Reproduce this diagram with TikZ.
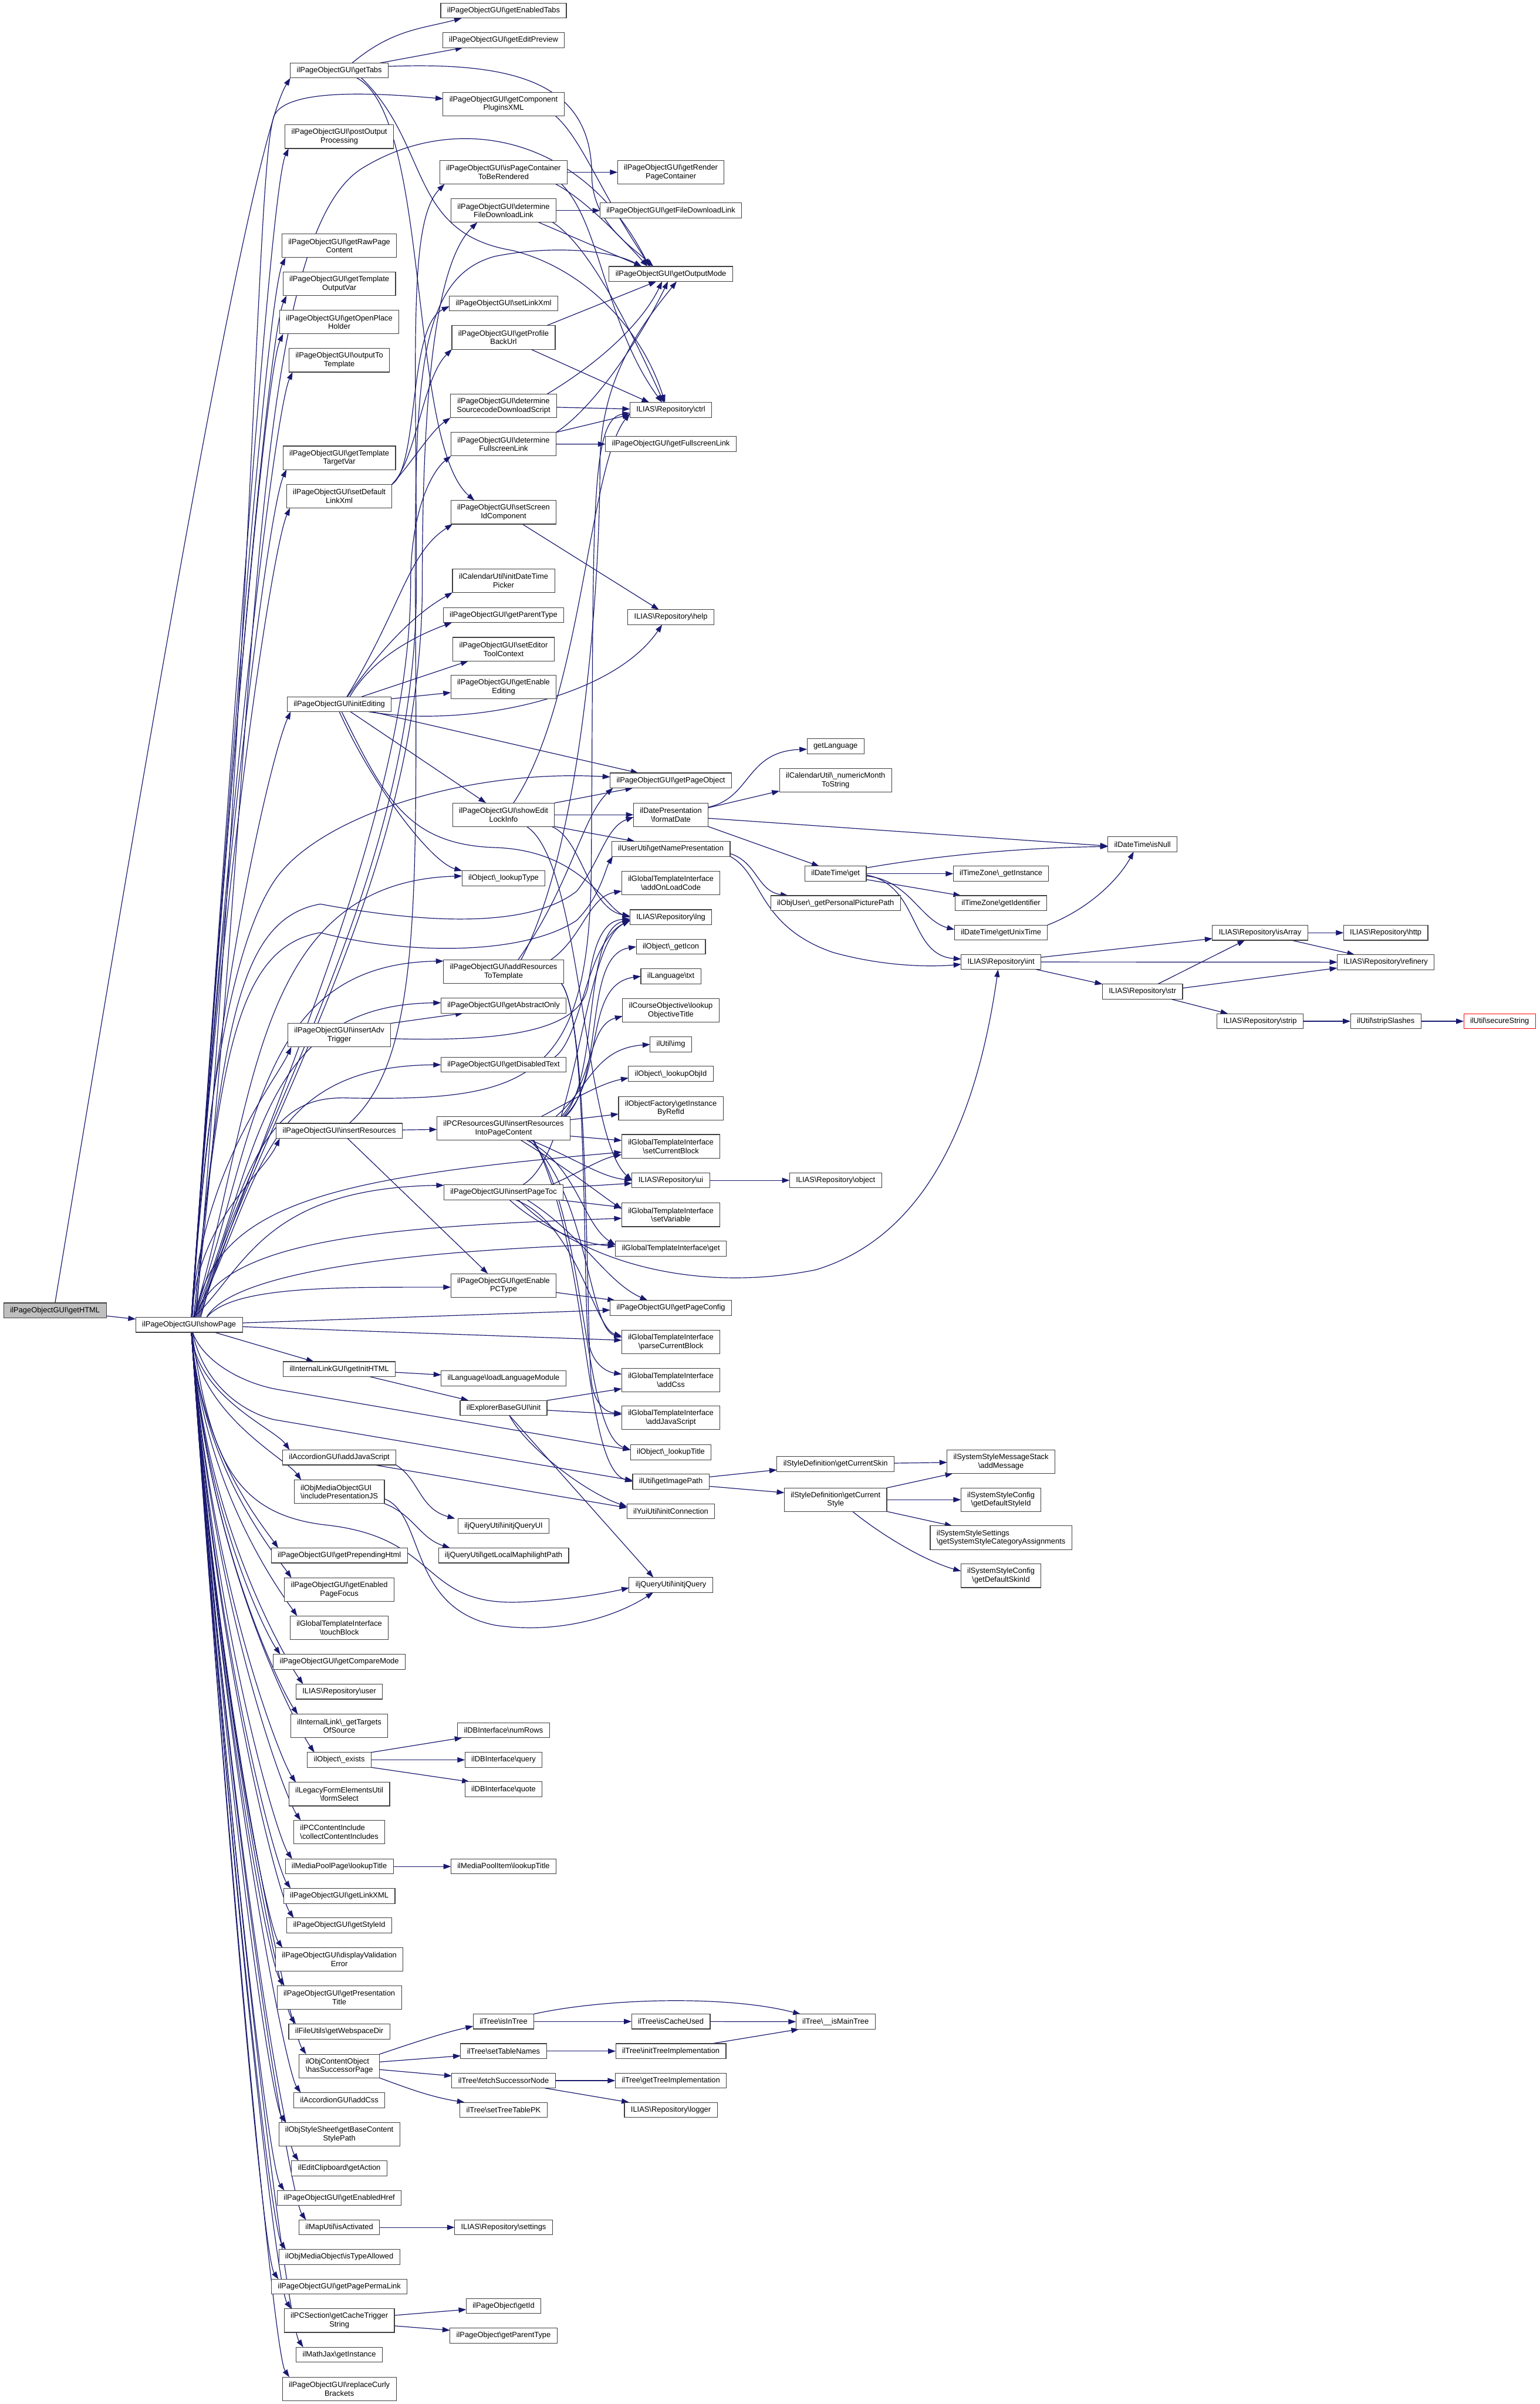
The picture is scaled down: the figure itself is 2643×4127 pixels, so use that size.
\documentclass[tikz,border=0pt]{standalone}
\usepackage{fontspec}
\setmainfont{Liberation Sans}
\usetikzlibrary{arrows.meta}
\definecolor{eb}{HTML}{191970}
\definecolor{nb}{HTML}{404040}
\definecolor{rootfill}{HTML}{BFBFBF}
\newcommand{\bks}{\textbackslash}
\pgfdeclarelayer{bg}
\pgfsetlayers{bg,main}
\newcommand{\fanDown}[2]{\draw[cedge] ([xshift=4pt]showPage.south) .. controls +(-86:#2) and +(125:45) .. ([xshift=12pt]#1.north west);}
\newcommand{\fanUp}[2]{\draw[cedge] ([xshift=4pt]showPage.north) .. controls +(86:#2) and +(-115:70) .. ([xshift=6pt]#1.south west);}
\begin{document}
\begin{tikzpicture}[x=1pt,y=1pt,
 nbox/.style={draw=nb, line width=1.1pt, fill=white, inner xsep=11pt, inner ysep=1pt, minimum height=25.7pt, font=\fontsize{13}{14.7}\selectfont, align=center, outer sep=0pt},
 twol/.style={minimum height=40.5pt},
 cedge/.style={draw=eb, line width=1.2pt, -{Triangle[length=13pt,width=9pt]}}]
\useasboundingbox (0,0) rectangle (2643,-4127);

% root
\node[nbox,fill=rootfill] (getHTML) at (94.5,-2249.6) {ilPageObjectGUI\bks getHTML};
\node[nbox] (showPage) at (324.6,-2274.3) {ilPageObjectGUI\bks showPage};

% column 1
\node[nbox] (getTabs) at (582.5,-121) {ilPageObjectGUI\bks getTabs};
\node[nbox,twol] (postOutput) at (582.5,-234.7) {ilPageObjectGUI\bks postOutput\\Processing};
\node[nbox,twol] (getRawPage) at (582.5,-422) {ilPageObjectGUI\bks getRawPage\\Content};
\node[nbox,twol] (getTplOut) at (582.5,-487.5) {ilPageObjectGUI\bks getTemplate\\OutputVar};
\node[nbox,twol] (getOpenPH) at (582.5,-553) {ilPageObjectGUI\bks getOpenPlace\\Holder};
\node[nbox,twol] (outputTo) at (582.5,-618.5) {ilPageObjectGUI\bks outputTo\\Template};
\node[nbox,twol] (getTplTarget) at (582.5,-786) {ilPageObjectGUI\bks getTemplate\\TargetVar};
\node[nbox,twol] (setDefLink) at (582.5,-851.8) {ilPageObjectGUI\bks setDefault\\LinkXml};
\node[nbox] (initEditing) at (582.5,-1208.9) {ilPageObjectGUI\bks initEditing};
\node[nbox,twol] (insertAdv) at (582.5,-1777) {ilPageObjectGUI\bks insertAdv\\Trigger};
\node[nbox] (insertRes) at (582.5,-1941.3) {ilPageObjectGUI\bks insertResources};
\node[nbox] (getInitHTML) at (582.5,-2350.4) {ilInternalLinkGUI\bks getInitHTML};
\node[nbox] (accJS) at (582.5,-2502) {ilAccordionGUI\bks addJavaScript};
\node[nbox,twol,align=left] (inclPresJS) at (582.5,-2561) {ilObjMediaObjectGUI\\\bks includePresentationJS};
\node[nbox] (getPrepHtml) at (582.5,-2670.3) {ilPageObjectGUI\bks getPrependingHtml};
\node[nbox,twol] (getEnPF) at (582.5,-2729) {ilPageObjectGUI\bks getEnabled\\PageFocus};
\node[nbox,twol] (touchBlock) at (582.5,-2794.4) {ilGlobalTemplateInterface\\\bks touchBlock};
\node[nbox] (getCompare) at (582.5,-2853) {ilPageObjectGUI\bks getCompareMode};
\node[nbox] (user) at (582.5,-2904) {ILIAS\bks Repository\bks user};
\node[nbox,twol] (getTargets) at (582.5,-2963) {ilInternalLink\bks\_getTargets\\OfSource};
\node[nbox] (exists) at (582.5,-3021.2) {ilObject\bks\_exists};
\node[nbox,twol] (formSelect) at (582.5,-3080) {ilLegacyFormElementsUtil\\\bks formSelect};
\node[nbox,twol,align=left] (collectCI) at (582.5,-3145.2) {ilPCContentInclude\\\bks collectContentIncludes};
\node[nbox] (mpPage) at (582.5,-3204.2) {ilMediaPoolPage\bks lookupTitle};
\node[nbox] (getLinkXML) at (582.5,-3254.7) {ilPageObjectGUI\bks getLinkXML};
\node[nbox] (getStyleId) at (582.5,-3305.4) {ilPageObjectGUI\bks getStyleId};
\node[nbox,twol] (dispValErr) at (582.5,-3363.9) {ilPageObjectGUI\bks displayValidation\\Error};
\node[nbox,twol] (getPresTitle) at (582.5,-3429) {ilPageObjectGUI\bks getPresentation\\Title};
\node[nbox] (webspace) at (582.5,-3487.5) {ilFileUtils\bks getWebspaceDir};
\node[nbox,twol,align=left] (hasSucc) at (582.5,-3546.8) {ilObjContentObject\\\bks hasSuccessorPage};
\node[nbox] (accCss) at (582.5,-3605.4) {ilAccordionGUI\bks addCss};
\node[nbox,twol] (baseCSP) at (582.5,-3664) {ilObjStyleSheet\bks getBaseContent\\StylePath};
\node[nbox] (clipAction) at (582.5,-3722.3) {ilEditClipboard\bks getAction};
\node[nbox] (getEnHref) at (582.5,-3773.3) {ilPageObjectGUI\bks getEnabledHref};
\node[nbox] (mapAct) at (582.5,-3823.8) {ilMapUtil\bks isActivated};
\node[nbox] (typeAllowed) at (582.5,-3874.7) {ilObjMediaObject\bks isTypeAllowed};
\node[nbox] (permaLink) at (582.5,-3925.5) {ilPageObjectGUI\bks getPagePermaLink};
\node[nbox,twol] (cacheTrig) at (582.5,-3983.8) {ilPCSection\bks getCacheTrigger\\String};
\node[nbox] (mathJax) at (582.5,-4042.2) {ilMathJax\bks getInstance};
\node[nbox,twol] (curly) at (582.5,-4101) {ilPageObjectGUI\bks replaceCurly\\Brackets};

% column 2
\node[nbox] (enTabs) at (864.5,-18.3) {ilPageObjectGUI\bks getEnabledTabs};
\node[nbox] (editPrev) at (864.5,-69) {ilPageObjectGUI\bks getEditPreview};
\node[nbox,twol] (compPlug) at (864.5,-178.6) {ilPageObjectGUI\bks getComponent\\PluginsXML};
\node[nbox,twol] (isPCR) at (864.5,-295.7) {ilPageObjectGUI\bks isPageContainer\\ToBeRendered};
\node[nbox,twol] (detFDL) at (864.5,-361.4) {ilPageObjectGUI\bks determine\\FileDownloadLink};
\node[nbox] (setLinkXml) at (864.5,-520.8) {ilPageObjectGUI\bks setLinkXml};
\node[nbox,twol] (profBack) at (864.5,-579.3) {ilPageObjectGUI\bks getProfile\\BackUrl};
\node[nbox,twol] (detSrc) at (864.5,-697) {ilPageObjectGUI\bks determine\\SourcecodeDownloadScript};
\node[nbox,twol] (detFS) at (864.5,-762.5) {ilPageObjectGUI\bks determine\\FullscreenLink};
\node[nbox,twol] (setScreen) at (864.5,-879.5) {ilPageObjectGUI\bks setScreen\\IdComponent};
\node[nbox,twol] (dtPicker) at (864.5,-996.9) {ilCalendarUtil\bks initDateTime\\Picker};
\node[nbox] (parentType) at (864.5,-1055.8) {ilPageObjectGUI\bks getParentType};
\node[nbox,twol] (editorTool) at (864.5,-1114.5) {ilPageObjectGUI\bks setEditor\\ToolContext};
\node[nbox,twol] (enEditing) at (864.5,-1179.5) {ilPageObjectGUI\bks getEnable\\Editing};
\node[nbox,twol] (lockInfo) at (864.5,-1398.7) {ilPageObjectGUI\bks showEdit\\LockInfo};
\node[nbox] (lookupType) at (864.5,-1507.8) {ilObject\bks\_lookupType};
\node[nbox,twol] (addRes) at (864.5,-1667.9) {ilPageObjectGUI\bks addResources\\ToTemplate};
\node[nbox] (abstractOnly) at (864.5,-1726.5) {ilPageObjectGUI\bks getAbstractOnly};
\node[nbox] (disabledText) at (864.5,-1827.9) {ilPageObjectGUI\bks getDisabledText};
\node[nbox,twol] (resInto) at (864.5,-1937.3) {ilPCResourcesGUI\bks insertResources\\IntoPageContent};
\node[nbox] (pageToc) at (864.5,-2046.7) {ilPageObjectGUI\bks insertPageToc};
\node[nbox,twol] (enPCType) at (864.5,-2206.7) {ilPageObjectGUI\bks getEnable\\PCType};
\node[nbox] (loadLang) at (864.5,-2366.3) {ilLanguage\bks loadLanguageModule};
\node[nbox] (explInit) at (864.5,-2417) {ilExplorerBaseGUI\bks init};
\node[nbox] (jqUI) at (864.5,-2619.8) {iljQueryUtil\bks initjQueryUI};
\node[nbox] (maphl) at (864.5,-2670.3) {iljQueryUtil\bks getLocalMaphilightPath};
\node[nbox] (numRows) at (864.5,-2970.3) {ilDBInterface\bks numRows};
\node[nbox] (query) at (864.5,-3021.2) {ilDBInterface\bks query};
\node[nbox] (quote) at (864.5,-3071.7) {ilDBInterface\bks quote};
\node[nbox] (mpItem) at (864.5,-3204.2) {ilMediaPoolItem\bks lookupTitle};
\node[nbox] (isInTree) at (864.5,-3470.3) {ilTree\bks isInTree};
\node[nbox] (setTN) at (864.5,-3521.2) {ilTree\bks setTableNames};
\node[nbox] (fetchSucc) at (864.5,-3571.8) {ilTree\bks fetchSuccessorNode};
\node[nbox] (setPK) at (864.5,-3622) {ilTree\bks setTreeTablePK};
\node[nbox] (settings) at (864.5,-3823.8) {ILIAS\bks Repository\bks settings};
\node[nbox] (pgId) at (864.5,-3958.7) {ilPageObject\bks getId};
\node[nbox] (pgParent) at (864.5,-4009.4) {ilPageObject\bks getParentType};

% column 3
\node[nbox,twol] (renderPC) at (1151.7,-295.7) {ilPageObjectGUI\bks getRender\\PageContainer};
\node[nbox] (fileDL) at (1151.7,-361.4) {ilPageObjectGUI\bks getFileDownloadLink};
\node[nbox] (outMode) at (1151.7,-470.3) {ilPageObjectGUI\bks getOutputMode};
\node[nbox] (ctrl) at (1151.7,-703.8) {ILIAS\bks Repository\bks ctrl};
\node[nbox] (fsLink) at (1151.7,-762.3) {ilPageObjectGUI\bks getFullscreenLink};
\node[nbox] (help) at (1151.7,-1059.6) {ILIAS\bks Repository\bks help};
\node[nbox] (pageObj) at (1151.7,-1339.8) {ilPageObjectGUI\bks getPageObject};
\node[nbox,twol] (fmtDate) at (1151.7,-1398.7) {ilDatePresentation\\\bks formatDate};
\node[nbox] (namePres) at (1151.7,-1457.3) {ilUserUtil\bks getNamePresentation};
\node[nbox,twol] (onLoad) at (1151.7,-1515.6) {ilGlobalTemplateInterface\\\bks addOnLoadCode};
\node[nbox] (lng) at (1151.7,-1574.6) {ILIAS\bks Repository\bks lng};
\node[nbox] (getIcon) at (1151.7,-1625.2) {ilObject\bks\_getIcon};
\node[nbox] (txt) at (1151.7,-1676) {ilLanguage\bks txt};
\node[nbox,twol] (objTitle) at (1151.7,-1734.4) {ilCourseObjective\bks lookup\\ObjectiveTitle};
\node[nbox] (img) at (1151.7,-1793) {ilUtil\bks img};
\node[nbox] (lookupObjId) at (1151.7,-1843.5) {ilObject\bks\_lookupObjId};
\node[nbox,twol] (byRefId) at (1151.7,-1902.5) {ilObjectFactory\bks getInstance\\ByRefId};
\node[nbox,twol] (setCB) at (1151.7,-1967.9) {ilGlobalTemplateInterface\\\bks setCurrentBlock};
\node[nbox] (ui) at (1151.7,-2026.3) {ILIAS\bks Repository\bks ui};
\node[nbox,twol] (setVar) at (1151.7,-2085.5) {ilGlobalTemplateInterface\\\bks setVariable};
\node[nbox] (tplGet) at (1151.7,-2143.5) {ilGlobalTemplateInterface\bks get};
\node[nbox] (pageConfig) at (1151.7,-2245.3) {ilPageObjectGUI\bks getPageConfig};
\node[nbox,twol] (parseCB) at (1151.7,-2303.8) {ilGlobalTemplateInterface\\\bks parseCurrentBlock};
\node[nbox,twol] (addCss) at (1151.7,-2369) {ilGlobalTemplateInterface\\\bks addCss};
\node[nbox,twol] (addJS) at (1151.7,-2434) {ilGlobalTemplateInterface\\\bks addJavaScript};
\node[nbox] (lookupTitle) at (1151.7,-2493) {ilObject\bks\_lookupTitle};
\node[nbox] (imgPath) at (1151.7,-2543.5) {ilUtil\bks getImagePath};
\node[nbox] (yuiConn) at (1151.7,-2594.4) {ilYuiUtil\bks initConnection};
\node[nbox] (jq) at (1151.7,-2720.8) {iljQueryUtil\bks initjQuery};
\node[nbox] (cacheUsed) at (1151.7,-3470.3) {ilTree\bks isCacheUsed};
\node[nbox] (initTI) at (1151.7,-3521.2) {ilTree\bks initTreeImplementation};
\node[nbox] (getTI) at (1151.7,-3571.8) {ilTree\bks getTreeImplementation};
\node[nbox] (logger) at (1151.7,-3622) {ILIAS\bks Repository\bks logger};

% column 4
\node[nbox] (getLanguage) at (1434.5,-1281.2) {getLanguage};
\node[nbox,twol] (numMonth) at (1434.5,-1339.9) {ilCalendarUtil\bks\_numericMonth\\ToString};
\node[nbox] (dtGet) at (1434.5,-1499.9) {ilDateTime\bks get};
\node[nbox] (picPath) at (1434.5,-1550.4) {ilObjUser\bks\_getPersonalPicturePath};
\node[nbox] (object) at (1434.5,-2026.3) {ILIAS\bks Repository\bks object};
\node[nbox] (curSkin) at (1434.5,-2513.3) {ilStyleDefinition\bks getCurrentSkin};
\node[nbox,twol] (curStyle) at (1434.5,-2574.5) {ilStyleDefinition\bks getCurrent\\Style};
\node[nbox] (mainTree) at (1434.5,-3470.7) {ilTree\bks\_\_isMainTree};

% column 5
\node[nbox] (tzInst) at (1718.5,-1499.9) {ilTimeZone\bks\_getInstance};
\node[nbox] (tzId) at (1718.5,-1550.4) {ilTimeZone\bks getIdentifier};
\node[nbox] (unixTime) at (1718.5,-1600.9) {ilDateTime\bks getUnixTime};
\node[nbox] (repInt) at (1718.5,-1651.4) {ILIAS\bks Repository\bks int};
\node[nbox,twol] (addMsg) at (1718.5,-2509.2) {ilSystemStyleMessageStack\\\bks addMessage};
\node[nbox,twol] (defStyle) at (1718.5,-2574.5) {ilSystemStyleConfig\\\bks getDefaultStyleId};
\node[nbox,twol,align=left] (catAssign) at (1718.5,-2639.8) {ilSystemStyleSettings\\\bks getSystemStyleCategoryAssignments};
\node[nbox,twol] (defSkin) at (1718.5,-2705.2) {ilSystemStyleConfig\\\bks getDefaultSkinId};

% right columns
\node[nbox] (isNull) at (1961.4,-1449.3) {ilDateTime\bks isNull};
\node[nbox] (str) at (1961.4,-1702.3) {ILIAS\bks Repository\bks str};
\node[nbox] (isArray) at (2163.3,-1601.3) {ILIAS\bks Repository\bks isArray};
\node[nbox] (strip) at (2163.3,-1753.2) {ILIAS\bks Repository\bks strip};
\node[nbox] (http) at (2379,-1601.3) {ILIAS\bks Repository\bks http};
\node[nbox] (refinery) at (2379,-1651.8) {ILIAS\bks Repository\bks refinery};
\node[nbox] (stripSl) at (2379,-1753.2) {ilUtil\bks stripSlashes};
\node[nbox,draw=red] (secure) at (2574.5,-1753.2) {ilUtil\bks secureString};

\begin{pgfonlayer}{bg}
\fill[white] (0,0) rectangle (2643,-4127);
% getHTML
\draw[cedge] (getHTML) -- (showPage);
\draw[cedge] (getHTML.north) .. controls (200,-1600) and (420,-260) .. (getTabs.south west);
% getTabs
\draw[cedge] ([xshift=22pt]getTabs.north) .. controls +(40:90) and +(195:70) .. ([xshift=36pt]enTabs.south west);
\draw[cedge] (getTabs) -- (editPrev);
\draw[cedge] ([yshift=7pt]getTabs.east) .. controls (900,-105) and (1015,-150) .. (1016,-300) .. controls (1016,-380) and (1080,-420) .. ([xshift=-30pt]outMode.north);
\draw[cedge] ([xshift=30pt]getTabs.south) .. controls (740,-200) and (700,-760) .. ([xshift=-50pt]setScreen.north);
\draw[cedge] ([xshift=38pt]getTabs.south) .. controls (740,-250) and (700,-400) .. (880,-430) .. controls (1000,-460) and (1100,-560) .. ([xshift=-10pt]ctrl.north);
% showPage fans
\fanUp{postOutput}{1103}
\fanUp{getRawPage}{1000}
\fanUp{getTplOut}{964}
\fanUp{getOpenPH}{928}
\fanUp{outputTo}{892}
\fanUp{getTplTarget}{800}
\fanUp{setDefLink}{764}
\fanUp{initEditing}{572}
\fanUp{insertAdv}{255}
\fanUp{insertRes}{169}
\draw[cedge] (showPage) -- (getInitHTML);
\fanDown{accJS}{111}
\fanDown{inclPresJS}{140}
\fanDown{getPrepHtml}{204}
\fanDown{getEnPF}{232}
\fanDown{touchBlock}{268}
\fanDown{getCompare}{304}
\fanDown{user}{332}
\fanDown{getTargets}{361}
\fanDown{exists}{397}
\fanDown{formSelect}{425}
\fanDown{collectCI}{461}
\fanDown{mpPage}{497}
\fanDown{getLinkXML}{525}
\fanDown{getStyleId}{553}
\fanDown{dispValErr}{581}
\fanDown{getPresTitle}{617}
\fanDown{webspace}{653}
\fanDown{hasSucc}{682}
\fanDown{accCss}{718}
\fanDown{baseCSP}{746}
\fanDown{clipAction}{782}
\fanDown{getEnHref}{810}
\fanDown{mapAct}{838}
\fanDown{typeAllowed}{866}
\fanDown{permaLink}{894}
\fanDown{cacheTrig}{922}
\fanDown{mathJax}{958}
\fanDown{curly}{987}
% showPage long edges
\draw[cedge] ([xshift=12pt]showPage.north) .. controls (440,-1000) and (440,-300) .. (470,-200) .. controls (490,-150) and (650,-160) .. ([yshift=9pt]compPlug.west);
\draw[cedge] ([xshift=10pt]showPage.north) .. controls (445,-1300) and (420,-420) .. (620,-290) .. controls (780,-190) and (1000,-230) .. ([xshift=-37pt]outMode.north);
\draw[cedge] ([xshift=14pt]showPage.north) .. controls (450,-1900) and (715,-1500) .. (715,-1000) .. controls (715,-600) and (700,-380) .. ([xshift=8pt]isPCR.south west);
\draw[cedge] ([xshift=16pt]showPage.north) .. controls (455,-1900) and (725,-1500) .. (725,-1000) .. controls (725,-600) and (760,-440) .. ([xshift=45pt]detFDL.south west);
\draw[cedge] ([xshift=18pt]showPage.north) .. controls (460,-1900) and (705,-1400) .. (705,-1000) .. controls (705,-880) and (740,-810) .. (detFS.south west);
\draw[cedge] ([xshift=20pt]showPage.north) .. controls (430,-1950) and (480,-1880) .. (600,-1885) .. controls (900,-1890) and (1010,-1860) .. (1015,-1500) .. controls (1020,-900) and (1010,-720) .. ([yshift=-5pt]ctrl.west);
\draw[cedge] ([xshift=6pt]showPage.north) .. controls (350,-1900) and (400,-1600) .. (480,-1500) .. controls (560,-1400) and (800,-1320) .. ([yshift=6pt]pageObj.west);
\draw[cedge] ([xshift=8pt]showPage.north) .. controls (440,-1900) and (430,-1515) .. ([yshift=4pt]lookupType.west);
\draw[cedge] ([xshift=8pt]showPage.north) .. controls (442,-1950) and (440,-1655) .. ([yshift=18pt]addRes.west);
\draw[cedge] ([xshift=8pt]showPage.north) .. controls (444,-2000) and (440,-1725) .. ([yshift=5pt]abstractOnly.west);
\draw[cedge] ([xshift=8pt]showPage.north) .. controls (446,-2050) and (440,-1830) .. (disabledText.west);
\draw[cedge] ([xshift=8pt]showPage.north) .. controls (420,-2180) and (450,-2040) .. ([yshift=12pt]pageToc.west);
\draw[cedge] ([xshift=10pt]showPage.north) .. controls +(80:200) and +(185:500) .. ([yshift=-10pt]setCB.west);
\draw[cedge] ([xshift=12pt]showPage.north) .. controls +(75:140) and +(182:400) .. ([yshift=-6pt]setVar.west);
\draw[cedge] ([xshift=30pt]showPage.north) .. controls +(60:100) and +(182:300) .. ([yshift=8pt]tplGet.west);
\draw[cedge] ([xshift=30pt]showPage.north) .. controls +(50:70) and +(180:200) .. ([yshift=-3pt]enPCType.west);
\draw[cedge] (showPage) -- (pageConfig);
\draw[cedge] (showPage) -- (parseCB);
\draw[cedge] ([xshift=6pt]showPage.south) .. controls (350,-2340) and (420,-2375) .. (475,-2385) -- ([yshift=4pt]lookupTitle.west);
\draw[cedge] ([xshift=6pt]showPage.south) .. controls (350,-2380) and (420,-2425) .. (470,-2437) -- ([yshift=2pt]imgPath.west);
\draw[cedge] ([xshift=5pt]showPage.south) .. controls (360,-2500) and (400,-2600) .. (560,-2618) .. controls (760,-2640) and (720,-2760) .. (900,-2750) .. controls (980,-2746) and (1040,-2735) .. ([yshift=-5pt]jq.west);
\draw[cedge] ([xshift=8pt]showPage.north) .. controls +(84:440) and +(190:150) .. (550,-1601) .. controls (700,-1640) and (900,-1640) .. (990,-1580) .. controls (1030,-1540) and (1040,-1490) .. ([xshift=2pt]namePres.south west);
\draw[cedge] ([xshift=8pt]showPage.north) .. controls +(84:480) and +(190:150) .. (550,-1552) .. controls (700,-1580) and (900,-1600) .. (990,-1530) .. controls (1030,-1480) and (1040,-1420) .. ([yshift=-4pt]fmtDate.west);
% setDefaultLinkXml
\draw[cedge] (setDefLink.north east) .. controls (720,-800) and (700,-560) .. ([yshift=-5pt]setLinkXml.west);
\draw[cedge] (setDefLink.north east) .. controls (715,-790) and (725,-650) .. (profBack.south west);
\draw[cedge] (setDefLink.north east) .. controls (710,-790) and (740,-740) .. (detSrc.south west);
% initEditing
\draw[cedge] (initEditing) -- (enEditing);
\draw[cedge] (initEditing) -- (editorTool);
\draw[cedge] ([xshift=18pt]initEditing.north) .. controls +(60:80) and +(200:60) .. ([xshift=15pt]parentType.south west);
\draw[cedge] ([xshift=14pt]initEditing.north) .. controls +(55:150) and +(210:40) .. (dtPicker.south west);
\draw[cedge] ([xshift=13pt]initEditing.north) .. controls (690,-1040) and (700,-950) .. ([xshift=3pt]setScreen.south west);
\draw[cedge] ([xshift=50pt]initEditing.south) .. controls (800,-1250) and (1050,-1200) .. ([xshift=-15pt]help.south);
\draw[cedge] (initEditing) -- (pageObj);
\draw[cedge] (initEditing) -- (lockInfo);
\draw[cedge] (initEditing.south) .. controls (640,-1350) and (740,-1480) .. (lookupType.north west);
\draw[cedge] ([xshift=4pt]initEditing.south) .. controls (660,-1370) and (700,-1450) .. (850,-1455) .. controls (1000,-1460) and (1040,-1560) .. (lng.west);
% column 2 -> column 3 (top)
\draw[cedge] ([xshift=-15pt]compPlug.south east) .. controls (1000,-240) and (1030,-330) .. ([xshift=-35pt]outMode.north);
\draw[cedge] (isPCR) -- (renderPC);
\draw[cedge] ([xshift=-20pt]isPCR.south east) .. controls (1000,-340) and (1060,-400) .. ([xshift=-40pt]outMode.north);
\draw[cedge] ([xshift=-10pt]isPCR.south east) .. controls (1030,-380) and (1040,-560) .. ([xshift=-15pt]ctrl.north);
\draw[cedge] (detFDL) -- (fileDL);
\draw[cedge] ([xshift=-30pt]detFDL.south east) -- ([xshift=-50pt]outMode.north);
\draw[cedge] ([xshift=-6pt]detFDL.south east) .. controls (1010,-420) and (1080,-560) .. ([xshift=-12pt]ctrl.north);
\draw[cedge] ([xshift=-15pt]profBack.north east) -- ([xshift=-25pt]outMode.south);
\draw[cedge] ([xshift=-42pt]profBack.south east) -- ([xshift=-37pt]ctrl.north);
\draw[cedge] ([xshift=-17pt]detSrc.north east) .. controls (1050,-610) and (1110,-540) .. ([xshift=-15pt]outMode.south);
\draw[cedge] (detSrc) -- (ctrl);
\draw[cedge] (detFS.north east) .. controls (1020,-700) and (1100,-580) .. ([xshift=-5pt]outMode.south);
\draw[cedge] (detFS.north east) -- ([yshift=-8pt]ctrl.west);
\draw[cedge] (detFS) -- (fsLink);
\draw[cedge] (setScreen) -- (help);
% showEditLockInfo
\draw[cedge] (lockInfo.north east) -- ([xshift=-65pt]pageObj.south);
\draw[cedge] (lockInfo) -- (fmtDate);
\draw[cedge] (lockInfo.south east) -- ([xshift=40pt]namePres.north west);
\draw[cedge] ([xshift=-5pt]lockInfo.south east) .. controls (1000,-1440) and (1010,-1560) .. ([yshift=2pt]lng.west);
\draw[cedge] ([xshift=-48pt]lockInfo.south east) .. controls (1000,-1480) and (1000,-1950) .. (ui.west);
\draw[cedge] ([xshift=17pt]lockInfo.north) .. controls (1000,-1200) and (1010,-800) .. ([yshift=-6pt]ctrl.west);
% formatDate, names
\draw[cedge] ([yshift=13pt]fmtDate.east) .. controls (1290,-1370) and (1280,-1290) .. ([yshift=-5pt]getLanguage.west);
\draw[cedge] ([yshift=12pt]fmtDate.east) -- ([yshift=-18pt]numMonth.west);
\draw[cedge] ([yshift=-6pt]fmtDate.east) -- ([yshift=-3pt]isNull.west);
\draw[cedge] (fmtDate.south east) -- ([xshift=-28pt]dtGet.north);
\draw[cedge] ([yshift=-8pt]namePres.east) .. controls (1300,-1480) and (1300,-1530) .. ([xshift=30pt]picPath.north west);
\draw[cedge] (namePres.south east) .. controls (1310,-1500) and (1300,-1590) .. (1430,-1635) .. controls (1520,-1660) and (1600,-1660) .. ([yshift=-4pt]repInt.west);
% date time
\draw[cedge] ([yshift=10pt]dtGet.east) .. controls (1600,-1470) and (1750,-1455) .. ([yshift=-4pt]isNull.west);
\draw[cedge] (dtGet) -- (tzInst);
\draw[cedge] ([yshift=-10pt]dtGet.east) -- ([xshift=10pt]tzId.north west);
\draw[cedge] ([yshift=-4pt]dtGet.east) .. controls (1560,-1510) and (1580,-1580) .. ([yshift=5pt]unixTime.west);
\draw[cedge] ([yshift=-2pt]dtGet.east) .. controls (1580,-1520) and (1560,-1640) .. ([yshift=5pt]repInt.west);
\draw[cedge] (unixTime.north east) .. controls (1870,-1560) and (1920,-1510) .. ([xshift=-15pt]isNull.south);
\draw[cedge] ([yshift=8pt]repInt.east) -- ([yshift=-10pt]isArray.west);
\draw[cedge] (repInt) -- (refinery);
\draw[cedge] ([xshift=-8pt]repInt.south east) -- (str.north west);
\draw[cedge] ([xshift=26pt]str.north) -- ([xshift=-26pt]isArray.south);
\draw[cedge] ([yshift=6pt]str.east) -- ([yshift=-10pt]refinery.west);
\draw[cedge] ([xshift=-20pt]str.south east) -- ([xshift=-55pt]strip.north);
\draw[cedge] (isArray) -- (http);
\draw[cedge] ([xshift=-28pt]isArray.south east) -- ([xshift=30pt]refinery.north west);
\draw[cedge] (strip) -- (stripSl);
\draw[cedge] (stripSl) -- (secure);
\draw[cedge] ([xshift=25pt]pageToc.south) .. controls (1000,-2170) and (1200,-2220) .. (1400,-2180) .. controls (1600,-2120) and (1680,-1900) .. ([xshift=-5pt]repInt.south);
% insertResources, PCType
\draw[cedge] (enPCType) -- (pageConfig);
\draw[cedge] ([xshift=14pt]insertRes.south) -- ([xshift=-27pt]enPCType.north);
\draw[cedge] (insertRes) -- (resInto);
\draw[cedge] ([xshift=17pt]insertRes.north) .. controls (710,-1830) and (715,-1600) .. (714,-1200) .. controls (712,-700) and (700,-480) .. (850,-440) .. controls (950,-420) and (1050,-430) .. ([xshift=-50pt]outMode.north);
% insertAdvTrigger, disabled text
\draw[cedge] (insertAdv.north east) -- ([xshift=38pt]abstractOnly.south west);
\draw[cedge] ([yshift=-6pt]insertAdv.east) .. controls (900,-1790) and (1000,-1760) .. (1010,-1690) .. controls (1020,-1610) and (1040,-1580) .. ([yshift=-3pt]lng.west);
\draw[cedge] ([xshift=-20pt]disabledText.north east) .. controls (1000,-1780) and (1005,-1620) .. ([yshift=-5pt]lng.west);
% addResourcesToTemplate
\draw[cedge] ([xshift=25pt]addRes.north) .. controls (980,-1520) and (1000,-1400) .. ([xshift=5pt]pageObj.south west);
\draw[cedge] ([xshift=30pt]addRes.north) .. controls (1000,-1450) and (1030,-1000) .. (1030,-800) .. controls (1030,-650) and (1100,-560) .. ([xshift=10pt]outMode.south);
\draw[cedge] ([xshift=-22pt]addRes.north east) .. controls (1000,-1610) and (1010,-1540) .. ([yshift=-14pt]onLoad.west);
\draw[cedge] ([xshift=-4pt]addRes.south east) .. controls (1010,-1750) and (1000,-2200) .. (1010,-2300) .. controls (1015,-2340) and (1040,-2355) .. ([yshift=10pt]addCss.west);
\draw[cedge] ([xshift=-4pt]addRes.south east) .. controls (1012,-1750) and (1005,-2250) .. (1015,-2370) .. controls (1020,-2410) and (1040,-2425) .. ([yshift=8pt]addJS.west);
% insertResourcesIntoPageContent
\draw[cedge] ([xshift=-50pt]resInto.north east) .. controls (980,-1890) and (1030,-1860) .. ([yshift=-7pt]lookupObjId.west);
\draw[cedge] ([xshift=-25pt]resInto.north east) .. controls (1010,-1870) and (1020,-1800) .. (img.west);
\draw[cedge] ([xshift=-15pt]resInto.north east) .. controls (1020,-1850) and (1010,-1760) .. ([yshift=-10pt]objTitle.west);
\draw[cedge] ([xshift=-10pt]resInto.north east) .. controls (1040,-1850) and (1000,-1690) .. (txt.west);
\draw[cedge] ([xshift=-8pt]resInto.north east) .. controls (1040,-1850) and (1000,-1640) .. (getIcon.west);
\draw[cedge] ([xshift=-12pt]resInto.north east) .. controls (1030,-1850) and (1000,-1600) .. ([yshift=-4pt]lng.west);
\draw[cedge] ([yshift=15pt]resInto.east) -- ([yshift=-10pt]byRefId.west);
\draw[cedge] ([yshift=-13pt]resInto.east) -- ([yshift=10pt]setCB.west);
\draw[cedge] ([xshift=47pt]resInto.south) .. controls (990,-1990) and (1030,-2020) .. (ui.west);
\draw[cedge] ([xshift=30pt]resInto.south) .. controls (980,-2010) and (1030,-2050) .. ([yshift=10pt]setVar.west);
\draw[cedge] ([xshift=40pt]resInto.south) .. controls (990,-2000) and (1000,-2100) .. ([yshift=6pt]tplGet.west);
\draw[cedge] ([xshift=44pt]resInto.south) .. controls (1010,-2050) and (1010,-2280) .. ([yshift=8pt]parseCB.west);
\draw[cedge] ([xshift=50pt]resInto.south) .. controls (1010,-2100) and (1000,-2460) .. ([yshift=4pt]lookupTitle.west);
\draw[cedge] ([xshift=52pt]resInto.south) .. controls (1015,-2150) and (1000,-2520) .. (imgPath.west);
% insertPageToc
\draw[cedge] ([xshift=33pt]pageToc.north) .. controls (990,-1980) and (1000,-1620) .. ([yshift=-6pt]lng.west);
\draw[cedge] ([yshift=8pt]pageToc.east) -- ([yshift=-5pt]ui.west);
\draw[cedge] ([xshift=-10pt]pageToc.south east) -- ([yshift=13pt]setVar.west);
\draw[cedge] ([xshift=10pt]pageToc.south) .. controls (930,-2110) and (1000,-2135) .. ([yshift=4pt]tplGet.west);
\draw[cedge] ([xshift=20pt]pageToc.south) .. controls (990,-2100) and (1020,-2280) .. ([yshift=10pt]parseCB.west);
\draw[cedge] ([xshift=-20pt]pageToc.north east) .. controls (1000,-2010) and (1030,-1990) .. ([yshift=-14pt]setCB.west);
\draw[cedge] ([xshift=40pt]pageToc.south) .. controls (1000,-2120) and (1040,-2200) .. ([xshift=-40pt]pageConfig.north);
% internal link, explorer, accordion, media
\draw[cedge] (getInitHTML) -- (loadLang);
\draw[cedge] ([xshift=52pt]getInitHTML.south) -- ([xshift=-60pt]explInit.north);
\draw[cedge] (explInit.north east) -- ([yshift=-15pt]addCss.west);
\draw[cedge] ([yshift=-4pt]explInit.east) -- ([yshift=6pt]addJS.west);
\draw[cedge] ([xshift=10pt]explInit.south) .. controls (900,-2480) and (1000,-2560) .. ([yshift=8pt]yuiConn.west);
\draw[cedge] ([xshift=10pt]explInit.south) -- ([xshift=-30pt]jq.north);
\draw[cedge] (accJS.south east) .. controls (720,-2540) and (720,-2590) .. ([xshift=-5pt]jqUI.north west);
\draw[cedge] ([xshift=60pt]accJS.south) -- ([yshift=6pt]yuiConn.west);
\draw[cedge] (inclPresJS.south east) .. controls (710,-2600) and (720,-2640) .. ([xshift=20pt]maphl.north west);
\draw[cedge] ([yshift=-12pt]inclPresJS.east) .. controls (730,-2600) and (700,-2760) .. (850,-2790) .. controls (950,-2805) and (1050,-2780) .. ([xshift=-30pt]jq.south);
% image path, style
\draw[cedge] ([yshift=8pt]imgPath.east) -- ([yshift=-10pt]curSkin.west);
\draw[cedge] ([yshift=-8pt]imgPath.east) -- ([yshift=12pt]curStyle.west);
\draw[cedge] (curSkin) -- (addMsg);
\draw[cedge] (curStyle.north east) -- ([xshift=10pt]addMsg.south west);
\draw[cedge] (curStyle) -- (defStyle);
\draw[cedge] (curStyle.south east) -- ([xshift=38pt]catAssign.north west);
\draw[cedge] ([xshift=29pt]curStyle.south) .. controls (1520,-2640) and (1590,-2680) .. ([yshift=8pt]defSkin.west);
\draw[cedge] (ui) -- (object);
% lower part
\draw[cedge] (exists.north east) -- ([xshift=8pt]numRows.south west);
\draw[cedge] (exists) -- (query);
\draw[cedge] (exists.south east) -- ([xshift=8pt]quote.north west);
\draw[cedge] (mpPage) -- (mpItem);
\draw[cedge] (hasSucc.north east) .. controls (700,-3510) and (760,-3490) .. ([yshift=-8pt]isInTree.west);
\draw[cedge] ([yshift=7pt]hasSucc.east) -- ([yshift=-8pt]setTN.west);
\draw[cedge] ([yshift=-6pt]hasSucc.east) -- ([yshift=8pt]fetchSucc.west);
\draw[cedge] (hasSucc.south east) .. controls (700,-3585) and (740,-3600) .. ([xshift=8pt]setPK.north west);
\draw[cedge] (isInTree) -- (cacheUsed);
\draw[cedge] (isInTree.north east) .. controls (1040,-3430) and (1250,-3425) .. ([xshift=8pt]mainTree.north west);
\draw[cedge] (cacheUsed) -- (mainTree);
\draw[cedge] (setTN) -- (initTI);
\draw[cedge] ([xshift=-25pt]initTI.north east) -- ([xshift=5pt]mainTree.south west);
\draw[cedge] (fetchSucc) -- (getTI);
\draw[cedge] ([xshift=-18pt]fetchSucc.south east) -- ([xshift=8pt]logger.north west);
\draw[cedge] (mapAct) -- (settings);
\draw[cedge] ([yshift=9pt]cacheTrig.east) -- ([yshift=-6pt]pgId.west);
\draw[cedge] ([yshift=-9pt]cacheTrig.east) -- ([yshift=9pt]pgParent.west);
\end{pgfonlayer}
\end{tikzpicture}
\end{document}
